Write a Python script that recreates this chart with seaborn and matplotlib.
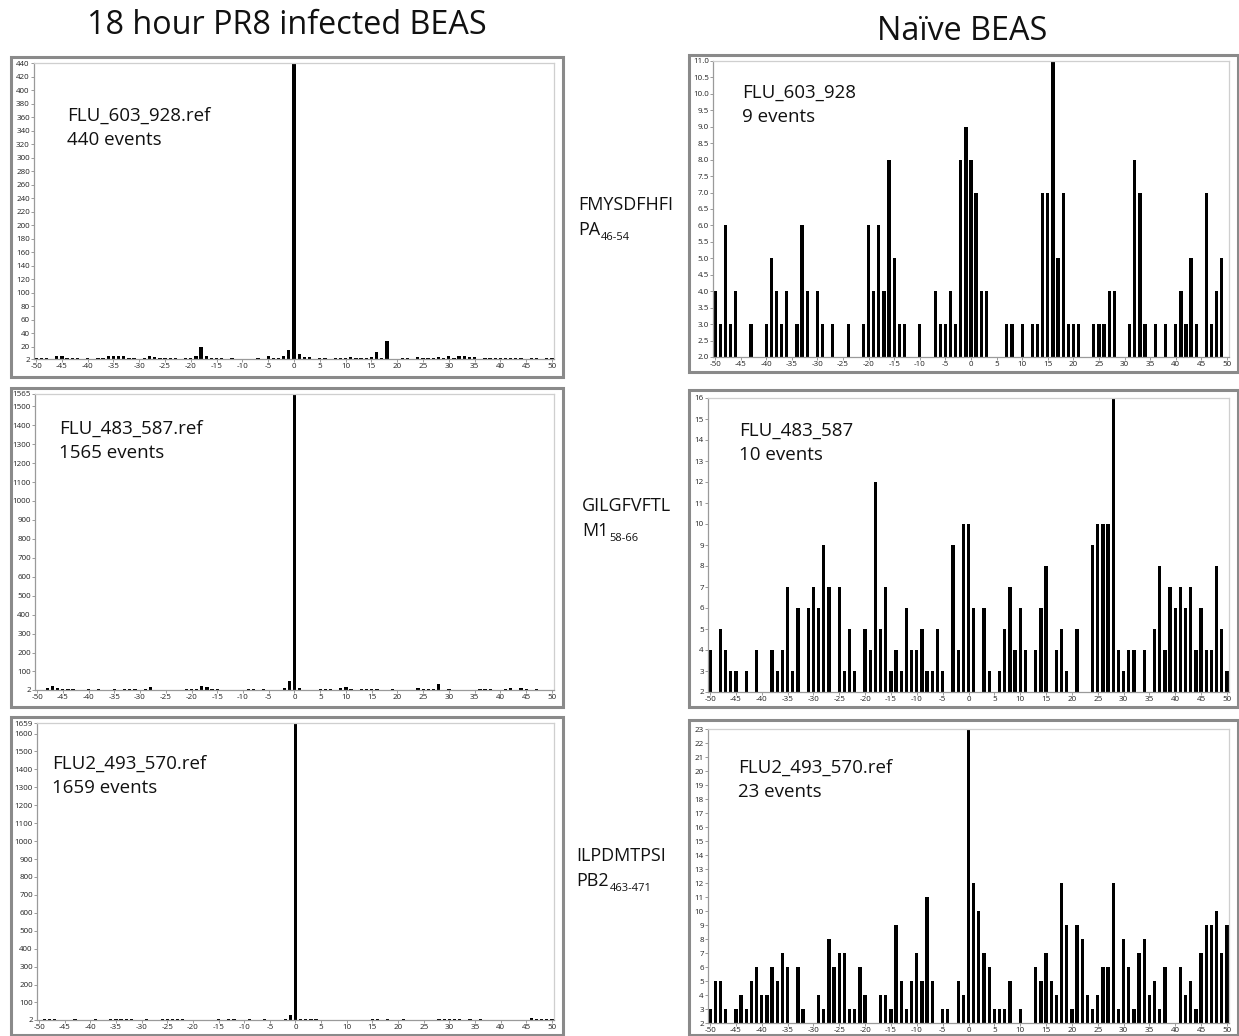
import numpy as np
import pandas as pd
import matplotlib
matplotlib.use("Agg")
import matplotlib.pyplot as plt
import seaborn as sns
from matplotlib.patches import Rectangle

W, H = 1239, 1036

# ---------------- data ----------------
positions = list(range(-50, 51))

infected_603 = [4, 4, 4, 2, 6, 6, 4, 4, 3, 2,
                3, 2, 3, 3, 6, 6, 6, 7, 4, 3,
                2, 4, 6, 5, 4, 4, 4, 4, 2, 4,
                3, 6, 20, 6, 4, 3, 4, 2, 3, 2,
                2, 2, 2, 3, 2, 6, 3, 4, 7, 15,
                440, 10, 5, 5, 2, 4, 3, 2, 3, 3,
                3, 5, 4, 4, 4, 5, 12, 4, 28, 2,
                2, 3, 3, 2, 5, 3, 3, 3, 5, 3,
                6, 4, 7, 7, 5, 5, 2, 3, 3, 3,
                3, 4, 3, 4, 4, 2, 3, 3, 2, 3, 4]

infected_483 = [3, 3, 12, 25, 10, 5, 5, 5, 3, 3,
                5, 3, 5, 3, 3, 6, 3, 5, 5, 5,
                3, 6, 20, 3, 3, 3, 3, 3, 3, 5,
                5, 6, 25, 18, 5, 5, 3, 3, 2, 3,
                3, 5, 5, 3, 6, 3, 3, 3, 12, 50,
                1565, 10, 3, 3, 3, 5, 5, 5, 3, 10,
                20, 6, 3, 8, 8, 6, 5, 4, 3, 5,
                3, 3, 3, 3, 10, 6, 5, 5, 35, 3,
                5, 3, 2, 2, 3, 3, 5, 5, 5, 4,
                3, 8, 12, 3, 10, 6, 3, 8, 3, 3, 3]

infected_493 = [4, 8, 5, 5, 4, 4, 3, 5, 4, 4,
                3, 5, 4, 3, 5, 7, 6, 8, 7, 4,
                4, 5, 4, 3, 5, 6, 5, 6, 5, 3,
                4, 4, 3, 3, 4, 5, 4, 5, 5, 4,
                3, 5, 4, 3, 5, 4, 3, 4, 5, 28,
                1659, 10, 6, 5, 5, 4, 3, 3, 4, 3,
                3, 3, 3, 3, 4, 6, 5, 3, 7, 4,
                4, 5, 4, 4, 3, 3, 4, 4, 10, 8,
                6, 6, 6, 3, 5, 4, 5, 3, 3, 3,
                3, 3, 3, 4, 4, 3, 12, 8, 10, 6, 5]

naive_603 = [4, 3, 6, 3, 4, 2, 2, 3, 2, 2,
             3, 5, 4, 3, 4, 2, 3, 6, 4, 2,
             4, 3, 2, 3, 2, 2, 3, 2, 2, 3,
             6, 4, 6, 4, 8, 5, 3, 3, 2, 2,
             3, 2, 2, 4, 3, 3, 4, 3, 8, 9,
             8, 7, 4, 4, 2, 2, 2, 3, 3, 2,
             3, 2, 3, 3, 7, 7, 11, 5, 7, 3,
             3, 3, 2, 2, 3, 3, 3, 4, 4, 2,
             2, 3, 8, 7, 3, 2, 3, 2, 3, 2,
             3, 4, 3, 5, 3, 2, 7, 3, 4, 5, 2]

naive_483 = [4, 2, 5, 4, 3, 3, 2, 3, 2, 4,
             2, 2, 4, 3, 4, 7, 3, 6, 2, 6,
             7, 6, 9, 7, 2, 7, 3, 5, 3, 2,
             5, 4, 12, 5, 7, 3, 4, 3, 6, 4,
             4, 5, 3, 3, 5, 3, 2, 9, 4, 10,
             10, 6, 2, 6, 3, 2, 3, 5, 7, 4,
             6, 4, 2, 4, 6, 8, 2, 4, 5, 3,
             2, 5, 2, 2, 9, 10, 10, 10, 16, 4,
             3, 4, 4, 2, 4, 2, 5, 8, 4, 7,
             6, 7, 6, 7, 4, 6, 4, 4, 8, 5, 3]

naive_493 = [3, 5, 5, 3, 2, 3, 4, 3, 5, 6,
             4, 4, 6, 5, 7, 6, 2, 6, 3, 2,
             2, 4, 3, 8, 6, 7, 7, 3, 3, 6,
             4, 2, 2, 4, 4, 3, 9, 5, 3, 5,
             7, 5, 11, 5, 2, 3, 3, 2, 5, 4,
             23, 12, 10, 7, 6, 3, 3, 3, 5, 2,
             3, 2, 2, 6, 5, 7, 5, 4, 12, 9,
             3, 9, 8, 4, 3, 4, 6, 6, 12, 3,
             8, 6, 3, 7, 8, 4, 5, 3, 6, 2,
             2, 6, 4, 5, 3, 7, 9, 9, 10, 7, 9]

xticks = list(range(-50, 51, 5))
yticks_tl = [2] + list(range(20, 441, 20))
yticks_ml = [2] + list(range(100, 1501, 100)) + [1565]
yticks_bl = [2] + list(range(100, 1601, 100)) + [1659]
yticks_tr = [2.0 + 0.5 * i for i in range(19)]
yticks_mr = list(range(2, 17))
yticks_br = list(range(2, 24))

names = ["FLU_603_928.ref", "FLU_483_587.ref", "FLU2_493_570.ref",
         "FLU_603_928", "FLU_483_587", "FLU2_493_570.ref"]
events = ["440 events", "1565 events", "1659 events",
          "9 events", "10 events", "23 events"]
peptides = ["FMYSDFHFI", "GILGFVFTL", "ILPDMTPSI"]
proteins = ["PA", "M1", "PB2"]
ranges = ["46-54", "58-66", "463-471"]
titles = ["18 hour PR8 infected BEAS", "Naïve BEAS"]

# ---------------- style ----------------
sns.set_theme(style="white")
plt.rcParams['font.family'] = ['Open Sans', 'DejaVu Sans']

fig = plt.figure(figsize=(W / 100, H / 100), dpi=100)
fig.patch.set_facecolor('white')


def axes_px(l, t, r, b):
    return fig.add_axes([l / W, 1 - b / H, (r - l) / W, (b - t) / H])


def frame_px(l, t, r, b):
    fig.add_artist(Rectangle((l / W, 1 - b / H), (r - l) / W, (b - t) / H,
                             transform=fig.transFigure, fill=False,
                             edgecolor='#8a8a8a', lw=2.2, zorder=0))


def draw(ax, vals, yticks, ylabels):
    df = pd.DataFrame({'pos': positions, 'count': vals})
    sns.barplot(data=df, x='pos', y='count', native_scale=True, width=0.64,
                color='black', saturation=1, linewidth=0, ax=ax, errorbar=None)
    ax.set_xlim(-50.4, 50.4)
    ax.set_ylim(yticks[0], yticks[-1])
    ax.set_xticks(xticks)
    ax.set_xticklabels([str(v) for v in xticks])
    ax.set_yticks(yticks)
    ax.set_yticklabels(ylabels)
    ax.set_xlabel('')
    ax.set_ylabel('')
    ax.tick_params(axis='both', which='both', length=2, width=0.6, color='#8a8a8a',
                   pad=1, labelsize=5.8, labelcolor='#222222', left=True, bottom=True)
    for s in ['left', 'bottom']:
        ax.spines[s].set_color('#9a9a9a')
        ax.spines[s].set_linewidth(0.9)
    for s in ['top', 'right']:
        ax.spines[s].set_color('#cfcfcf')
        ax.spines[s].set_linewidth(0.9)
    ax.set_facecolor('white')


panels = [
    # values, yticks, labels, axes px, frame px, text px
    (infected_603, yticks_tl, [str(v) for v in yticks_tl], (34, 63, 554, 359), (11, 57, 563, 377), (67, 116)),
    (infected_483, yticks_ml, [str(v) for v in yticks_ml], (35, 394, 554, 690), (11, 388, 563, 707), (59, 429)),
    (infected_493, yticks_bl, [str(v) for v in yticks_bl], (37, 723, 554, 1020), (11, 717, 563, 1035), (52, 764)),
    (naive_603, yticks_tr, ['%.1f' % v for v in yticks_tr], (713, 61, 1229, 357), (689, 55, 1238, 372), (742, 93)),
    (naive_483, yticks_mr, [str(v) for v in yticks_mr], (708, 398, 1229, 692), (689, 390, 1238, 707), (739, 431)),
    (naive_493, yticks_br, [str(v) for v in yticks_br], (708, 729, 1229, 1023), (689, 720, 1238, 1035), (738, 768)),
]

for i, (vals, yt, yl, apx, fpx, tpx) in enumerate(panels):
    frame_px(*fpx)
    ax = axes_px(*apx)
    draw(ax, vals, yt, yl)
    fig.text(tpx[0] / W, 1 - tpx[1] / H, names[i], fontsize=13.5, va='center', ha='left', color='#111111')
    fig.text(tpx[0] / W, 1 - (tpx[1] + 24) / H, events[i], fontsize=13.5, va='center', ha='left', color='#111111')

# titles
fig.text(287 / W, 1 - 26 / H, titles[0], fontsize=23.3, ha='center', va='center', color='#111111')
fig.text(962 / W, 1 - 32 / H, titles[1], fontsize=23.3, ha='center', va='center', color='#111111')

# peptide labels
pep_px = [(578, 205), (582, 506), (576, 856)]
for (x, y), pep, prot, rg in zip(pep_px, peptides, proteins, ranges):
    fig.text(x / W, 1 - y / H, pep, fontsize=13, ha='left', va='center', color='#111111')
    t = fig.text(x / W, 1 - (y + 25) / H, prot, fontsize=13, ha='left', va='center', color='#111111')
    plt.annotate(rg, xy=(1.0, 0.0), xycoords=t, xytext=(0.5, -3), textcoords='offset points',
                 fontsize=8, ha='left', va='bottom', color='#111111', annotation_clip=False)

fig.savefig('out.png', dpi=100, facecolor='white')
